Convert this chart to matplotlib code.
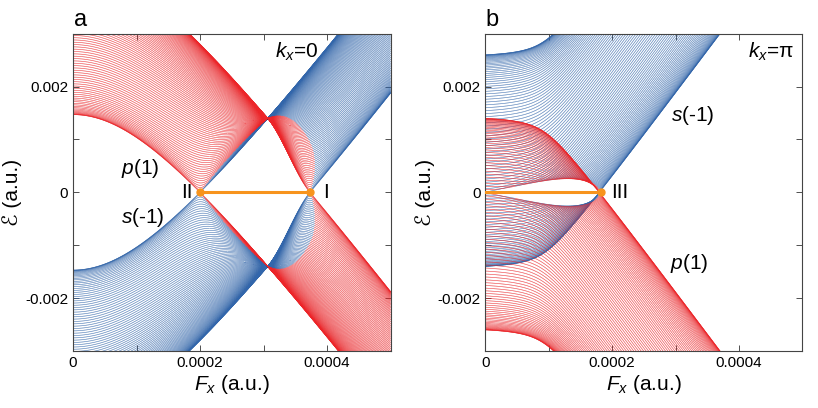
import numpy as np
import matplotlib
matplotlib.use('Agg')
import matplotlib.pyplot as plt
from matplotlib.collections import LineCollection
from matplotlib.ticker import MultipleLocator

plt.rcParams['font.family'] = ['Liberation Sans', 'DejaVu Sans']
plt.rcParams['mathtext.fontset'] = 'custom'
plt.rcParams['mathtext.it'] = 'Liberation Sans:italic'
plt.rcParams['mathtext.rm'] = 'Liberation Sans'

RED = '#ec2529'
BLUE = '#3266ab'
ORANGE = '#f7941d'

# ── landmarks ─────────────────────────────────────────────────────────────────
N_Q = 100                     # transverse momenta drawn per band
F_MAX, E_MAX = 5e-4, 3e-3

# panel a, k_x = 0
GAP_A = 1.47e-3               # bottom of p(1) at F = 0
F_II, F_THROAT, F_I = 2.0e-4, 3.06e-4, 3.73e-4
B_A = [7.0e-4, 5.86e-4]       # half-bandwidth at the throat and at point I
STARK_A = [15.9, 1.7e-4]      # slope, knee field of the Stark shift
P_WEIGHT_A = [0.12, 0.30]     # p weight drawn red, left / right of the throat

# panel b, k_x = pi
EP_B = [1.40e-3, -2.60e-3]    # p(1) energy at F = 0 for q = 0 and q = pi
STARK_B = [16.0, 0.925e-4, 0.4e-4]
COUPLING_B = 2.6
F_III = 1.82e-4

X_TICKS = [0, 2e-4, 4e-4]
X_LABELS = ['0', '0.0002', '0.0004']
Y_TICKS = [-2e-3, 0, 2e-3]
Y_LABELS = ['-0.002', '0', '0.002']

F = np.linspace(0, F_MAX, 800)
Q = np.linspace(0, np.pi, N_Q)


# ── panel a: p(1)/s(-1) two-band chain, gap closes at q=0 (II) and q=pi (I) ──
def curves_a():
    s, f0 = STARK_A
    M = GAP_A - s * (np.sqrt(F**2 + f0**2) - f0)
    x = np.clip((F - F_THROAT) / (F_I - F_THROAT), 0, 1)
    B = B_A[0] - (B_A[0] - B_A[1]) * x * x * (3 - 2 * x)
    u = M + 2 * B
    th = np.where(u > 0, P_WEIGHT_A[0], P_WEIGHT_A[1])
    out = []
    for q in Q:
        E = np.sqrt(np.maximum(u**2 + 4 * B**2 - 4 * B * u * np.cos(q), 0))
        m = u - 2 * B * np.cos(q)
        w = 0.5 * (1 + m / np.maximum(E, 1e-12))      # p weight, upper band
        red_up = w > th
        out.append((E, red_up))
        out.append((-E, ~red_up))
    return out


# ── panel b: p(1) above s(-1) only near q=0, coupling grows with F ──────────
def curves_b():
    s, f1, wd = STARK_B
    h = lambda x: 0.5 * s * ((x - f1) + np.sqrt((x - f1)**2 + wd**2))
    shift = h(F) - h(0.0)
    out = []
    for q in Q:
        ep = EP_B[0] + (EP_B[1] - EP_B[0]) * (1 - np.cos(q)) / 2
        m = ep - shift
        d = COUPLING_B * np.sin(q) * F
        E = np.sqrt(m**2 + d**2)
        out.append((E, m > 0))
        out.append((-E, m < 0))
    return out


def draw(ax, curves):
    red, blue = [], []
    for E, is_p in curves:
        pts = np.column_stack([F, E])
        segs = np.stack([pts[:-1], pts[1:]], axis=1)
        keep = np.abs(E[:-1]) < 3.3e-3
        red.extend(segs[is_p[:-1] & keep])
        blue.extend(segs[~is_p[:-1] & keep])
    ax.add_collection(LineCollection(blue, colors=BLUE, linewidths=0.45))
    ax.add_collection(LineCollection(red, colors=RED, linewidths=0.45))


fig = plt.figure(figsize=(8.18, 4.08), dpi=100)
ax_a = fig.add_axes([0.0892, 0.1397, 0.3884, 0.7777])
ax_b = fig.add_axes([0.5933, 0.1397, 0.3875, 0.7777])

for ax, curves in [(ax_a, curves_a()), (ax_b, curves_b())]:
    draw(ax, curves)
    ax.set_xlim(0, F_MAX)
    ax.set_ylim(-E_MAX, E_MAX)
    ax.set_xticks(X_TICKS)
    ax.set_xticklabels(X_LABELS, fontsize=11)
    ax.set_yticks(Y_TICKS)
    ax.set_yticklabels(Y_LABELS, fontsize=11)
    ax.xaxis.set_minor_locator(MultipleLocator(1e-4))
    ax.yaxis.set_minor_locator(MultipleLocator(1e-3))
    ax.tick_params(which='both', direction='in', top=True, right=True,
                   length=4, width=0.6, color='#333333')
    for sp in ax.spines.values():
        sp.set_linewidth(0.8)
        sp.set_color('#444444')
    ax.set_xlabel('$F_x$ (a.u.)', fontsize=15, labelpad=2)
    ax.set_ylabel('ℰ (a.u.)', fontsize=15, labelpad=2)

# gap-closing segments
ax_a.plot([F_II, F_I], [0, 0], color=ORANGE, lw=2.2, zorder=5)
ax_a.plot([F_II, F_I], [0, 0], 'o', color=ORANGE, ms=5, zorder=6)
ax_b.plot([0, F_III], [0, 0], color=ORANGE, lw=2.2, zorder=5)
ax_b.plot([F_III], [0], 'o', color=ORANGE, ms=5, zorder=6)

fs = 15
ax_a.text(3.18e-4, 2.65e-3, '$k_x$=0', fontsize=fs, va='center')
ax_a.text(0.75e-4, 0.46e-3, '$p$(1)', fontsize=fs, va='center')
ax_a.text(0.75e-4, -0.48e-3, '$s$(-1)', fontsize=fs, va='center')
ax_a.text(1.88e-4, 0, 'II', fontsize=fs, va='center', ha='right')
ax_a.text(3.93e-4, 0, 'I', fontsize=fs, va='center', ha='left')

ax_b.text(4.15e-4, 2.65e-3, '$k_x$=π', fontsize=fs, va='center')
ax_b.text(2.93e-4, 1.45e-3, '$s$(-1)', fontsize=fs, va='center')
ax_b.text(2.92e-4, -1.35e-3, '$p$(1)', fontsize=fs, va='center')
ax_b.text(1.98e-4, 0, 'III', fontsize=fs, va='center', ha='left')

fig.text(0.090, 0.950, 'a', fontsize=17, va='center')
fig.text(0.594, 0.950, 'b', fontsize=17, va='center')

fig.savefig('out.png', dpi=100)
